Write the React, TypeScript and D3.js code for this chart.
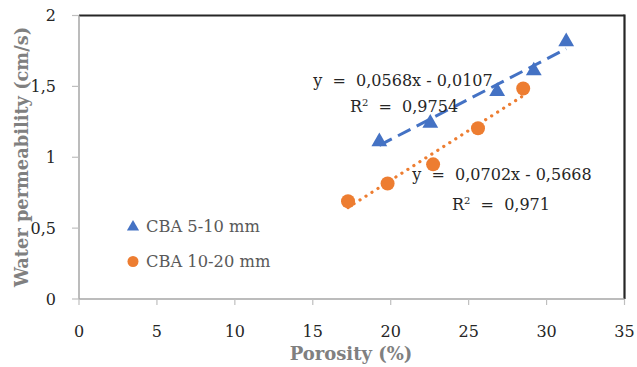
import React from "react";
import * as d3 from "d3";

const xTicks = [0, 5, 10, 15, 20, 25, 30, 35];
const yTicks = [0, 0.5, 1, 1.5, 2];
const yTickLabels = ["0", "0,5", "1", "1,5", "2"];

const seriesANames = "CBA 5-10 mm";
const seriesBNames = "CBA 10-20 mm";
const porosityA = [19.27, 22.54, 26.83, 29.18, 31.26];
const permA = [1.11, 1.24, 1.465, 1.61, 1.815];
const porosityB = [17.26, 19.8, 22.72, 25.6, 28.5];
const permB = [0.69, 0.815, 0.95, 1.205, 1.485];

const slopeA = 0.0568;
const interceptA = -0.0107;
const slopeB = 0.0702;
const interceptB = -0.5668;
const eqA = "y = 0,0568x - 0,0107";
const r2A = "0,9754";
const eqB = "y = 0,0702x - 0,5668";
const r2B = "0,971";

const W = 637;
const H = 367;
const FONT = "'DejaVu Serif', serif";
const BLUE = "#4472C4";
const ORANGE = "#ED7D31";

export default function App() {
  const x = d3.scaleLinear().domain([0, 35]).range([79, 624.5]);
  const y = d3.scaleLinear().domain([0, 2]).range([299, 15.5]);
  const tri = d3.symbol(d3.symbolTriangle, 108)() as string;
  const triLeg = d3.symbol(d3.symbolTriangle, 64)() as string;
  const line = d3
    .line<[number, number]>()
    .x((d) => x(d[0]))
    .y((d) => y(d[1]));
  const minA = d3.min(porosityA)!, maxA = d3.max(porosityA)!;
  const minB = d3.min(porosityB)!, maxB = d3.max(porosityB)!;
  const trendA = line([
    [minA, slopeA * minA + interceptA],
    [maxA, slopeA * maxA + interceptA],
  ]);
  const trendB = line([
    [minB, slopeB * minB + interceptB],
    [maxB, slopeB * maxB + interceptB],
  ]);

  return (
    <svg
      width={W}
      height={H}
      style={{ position: "absolute", left: 0, top: 0, background: "#fff" }}
      fontFamily={FONT}
    >
      <rect x={0} y={0} width={W} height={H} fill="#fff" />
      {/* plot border */}
      <line x1={x(0)} x2={x(35)} y1={y(2)} y2={y(2)} stroke="#262626" strokeWidth={2.2} />
      <line x1={x(35)} x2={x(35)} y1={y(2) - 1} y2={y(0)} stroke="#262626" strokeWidth={2.2} />
      {/* axes */}
      <line x1={x(0)} x2={x(0)} y1={y(2)} y2={y(0)} stroke="#a6a6a6" strokeWidth={1.5} />
      <line x1={x(0)} x2={x(35)} y1={y(0)} y2={y(0)} stroke="#a6a6a6" strokeWidth={1.5} />
      {yTicks.map((t, i) => (
        <g key={"y" + t}>
          <line x1={x(0) - 7} x2={x(0)} y1={y(t)} y2={y(t)} stroke="#bfbfbf" strokeWidth={1.2} />
          <text x={56} y={y(t)} dy="0.35em" textAnchor="end" fontSize={16} fill="#262626">
            {yTickLabels[i]}
          </text>
        </g>
      ))}
      {xTicks.map((t) => (
        <g key={"x" + t}>
          <line x1={x(t)} x2={x(t)} y1={y(0)} y2={y(0) + 6} stroke="#bfbfbf" strokeWidth={1.2} />
          <text x={x(t)} y={337} textAnchor="middle" fontSize={16} fill="#262626">
            {t}
          </text>
        </g>
      ))}
      {/* axis titles */}
      <text x={351} y={360} textAnchor="middle" fontSize={18} fontWeight="bold" fill="#808080">
        Porosity (%)
      </text>
      <text
        transform={`translate(28,157) rotate(-90)`}
        textAnchor="middle"
        fontSize={17.8}
        fontWeight="bold"
        fill="#808080"
      >
        Water permeability (cm/s)
      </text>
      {/* trendlines */}
      <path d={trendA ?? ""} fill="none" stroke={BLUE} strokeWidth={3} strokeDasharray="14 7" />
      <path
        d={trendB ?? ""}
        fill="none"
        stroke={ORANGE}
        strokeWidth={3.2}
        strokeDasharray="0.1 7"
        strokeLinecap="round"
      />
      {/* points */}
      {porosityA.map((p, i) => (
        <path key={"a" + i} d={tri} transform={`translate(${x(p)},${y(permA[i])})`} fill={BLUE} />
      ))}
      {porosityB.map((p, i) => (
        <circle key={"b" + i} cx={x(p)} cy={y(permB[i])} r={7} fill={ORANGE} />
      ))}
      {/* equations */}
      <text x={403} y={86} textAnchor="middle" fontSize={16} fill="#262626" style={{ whiteSpace: "pre" }}>
        {eqA.replace(" = ", "  =  ")}
      </text>
      <text x={404} y={112} textAnchor="middle" fontSize={16} fill="#262626" style={{ whiteSpace: "pre" }}>
        R<tspan fontSize={10} dy={-6}>2</tspan>
        <tspan dy={6}>{"  =  " + r2A}</tspan>
      </text>
      <text x={502} y={180} textAnchor="middle" fontSize={16} fill="#262626" style={{ whiteSpace: "pre" }}>
        {eqB.replace(" = ", "  =  ")}
      </text>
      <text x={501} y={210} textAnchor="middle" fontSize={16} fill="#262626" style={{ whiteSpace: "pre" }}>
        R<tspan fontSize={10} dy={-6}>2</tspan>
        <tspan dy={6}>{"  =  " + r2B}</tspan>
      </text>
      {/* legend */}
      <path d={triLeg} transform={`translate(133,227)`} fill={BLUE} />
      <text x={146} y={232} fontSize={16.3} fill="#595959">
        {seriesANames}
      </text>
      <circle cx={133} cy={261.5} r={5.5} fill={ORANGE} />
      <text x={146} y={266.5} fontSize={16.3} fill="#595959">
        {seriesBNames}
      </text>
    </svg>
  );
}
